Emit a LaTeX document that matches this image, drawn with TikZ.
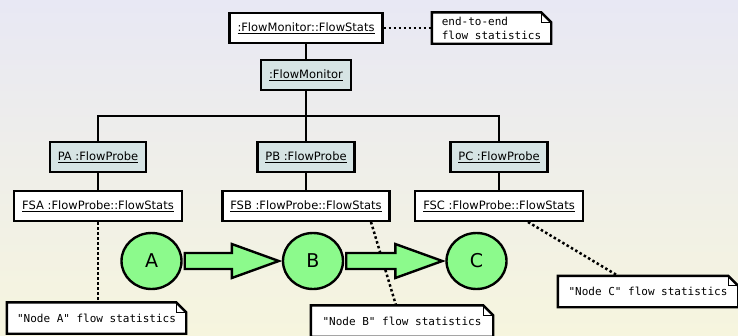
\documentclass[tikz,border=0pt]{standalone}
\usepackage{fontspec}
\setmainfont{DejaVu Sans}
\setmonofont{DejaVu Sans Mono}
\usetikzlibrary{shapes.geometric,calc}

\pgfdeclarelayer{background}
\pgfdeclarelayer{notelayer}
\pgfsetlayers{background,notelayer,main}

\definecolor{objfill}{RGB}{214,228,228}
\definecolor{nodegreen}{RGB}{140,250,140}
\definecolor{bgtop}{RGB}{232,232,244}
\definecolor{bgbottom}{RGB}{246,245,222}

\tikzset{
  object/.style={draw, line width=2.4pt, fill=white, minimum height=29.6pt,
    inner xsep=8pt, inner ysep=0pt, font=\fontsize{11.5}{13}\selectfont},
  monitor/.style={object, fill=objfill},
  note/.style={align=left, inner sep=0pt, minimum height=31pt,
    font=\ttfamily\fontsize{11}{14}\selectfont},
  link/.style={line width=1.8pt},
  comment/.style={line width=2.5pt, dash pattern=on 2.5pt off 2.5pt},
  netnode/.style={ellipse, draw, line width=2.4pt, fill=nodegreen,
    minimum width=60pt, minimum height=56pt, font=\fontsize{19}{19}\selectfont},
  flow/.style={draw, line width=2.4pt, fill=nodegreen, line join=miter},
}

\newcommand{\obj}[1]{\underline{#1}}
% note outline with folded corner
\newcommand{\noteframe}[1]{%
  \draw[line width=2.4pt, fill=white] (#1.south west) -- (#1.north west)
    -- ([xshift=-10pt]#1.north east) -- ([yshift=-10pt]#1.north east)
    -- (#1.south east) -- cycle;
  \draw[line width=1pt] ([xshift=-10pt]#1.north east) |- ([yshift=-10pt]#1.north east);}
% fat arrow between two network nodes
\newcommand{\flowarrow}[2]{%
  \draw[flow] let \p1=([xshift=2pt]#1.east), \p2=([xshift=-3pt]#2.west) in
    (\x1,\y1+8pt) -- (\x2-47pt,\y1+8pt) -- (\x2-47pt,\y1+17pt) -- (\x2,\y1)
    -- (\x2-47pt,\y1-17pt) -- (\x2-47pt,\y1-8pt) -- (\x1,\y1-8pt) -- cycle;}

\begin{document}
\begin{tikzpicture}[x=1pt,y=-1pt]
    \useasboundingbox (0,0) rectangle (738,335);
    \begin{pgfonlayer}{background}
        \fill[top color=bgtop, bottom color=bgbottom] (0,0) rectangle (738,335);
    \end{pgfonlayer}

    % monitor side
    \node[object] (fmstats) at (306,28) {\obj{:FlowMonitor::FlowStats}};
    \node[monitor] (fmon) at (306,75) {\obj{:FlowMonitor}};
    \node[note, minimum width=119pt] (e2enote) at (491.5,28) {end-to-end\\flow statistics};

    % probes
    \node[monitor] (pa) at (98,157) {\obj{PA :FlowProbe}};
    \node[monitor] (pb) at (306,157) {\obj{PB :FlowProbe}};
    \node[monitor] (pc) at (499,157) {\obj{PC :FlowProbe}};
    \node[object] (fsa) at (98,206) {\obj{FSA :FlowProbe::FlowStats}};
    \node[object] (fsb) at (306,206) {\obj{FSB :FlowProbe::FlowStats}};
    \node[object] (fsc) at (499,206) {\obj{FSC :FlowProbe::FlowStats}};

    % network nodes
    \node[netnode] (na) at (151.5,261) {A};
    \node[netnode] (nb) at (313,261) {B};
    \node[netnode] (nc) at (476.5,261) {C};

    \node[note, minimum width=179pt] (notea) at (96.5,318) {"Node A" flow statistics};
    \node[note, minimum width=182pt] (noteb) at (402,321) {"Node B" flow statistics};
    \node[note, minimum width=180pt] (notec) at (648,291.5) {"Node C" flow statistics};

    \coordinate (bus) at (0,116);
    \draw[link] (fmstats) -- (fmon);
    \draw[link] (fmon) -- (pb);
    \draw[link] (pa.north) |- (pb.north |- bus) -| (pc.north);
    \draw[link] (pa) -- (fsa);
    \draw[link] (pb) -- (fsb);
    \draw[link] (pc) -- (fsc);

    \flowarrow{na}{nb}
    \flowarrow{nb}{nc}

    \begin{pgfonlayer}{notelayer}
        \draw[comment] (fmstats) -- (e2enote);
        \draw[comment] (fsa.south) -- (fsa.south |- notea.north);
        \draw[comment] ([xshift=65pt]fsb.south) -- ([xshift=-6pt]noteb.north);
        \draw[comment] ([xshift=29pt]fsc.south) -- ([xshift=-30pt]notec.north);
        \foreach \n in {e2enote,notea,noteb,notec} {
            \noteframe{\n}
        }
    \end{pgfonlayer}
\end{tikzpicture}
\end{document}
